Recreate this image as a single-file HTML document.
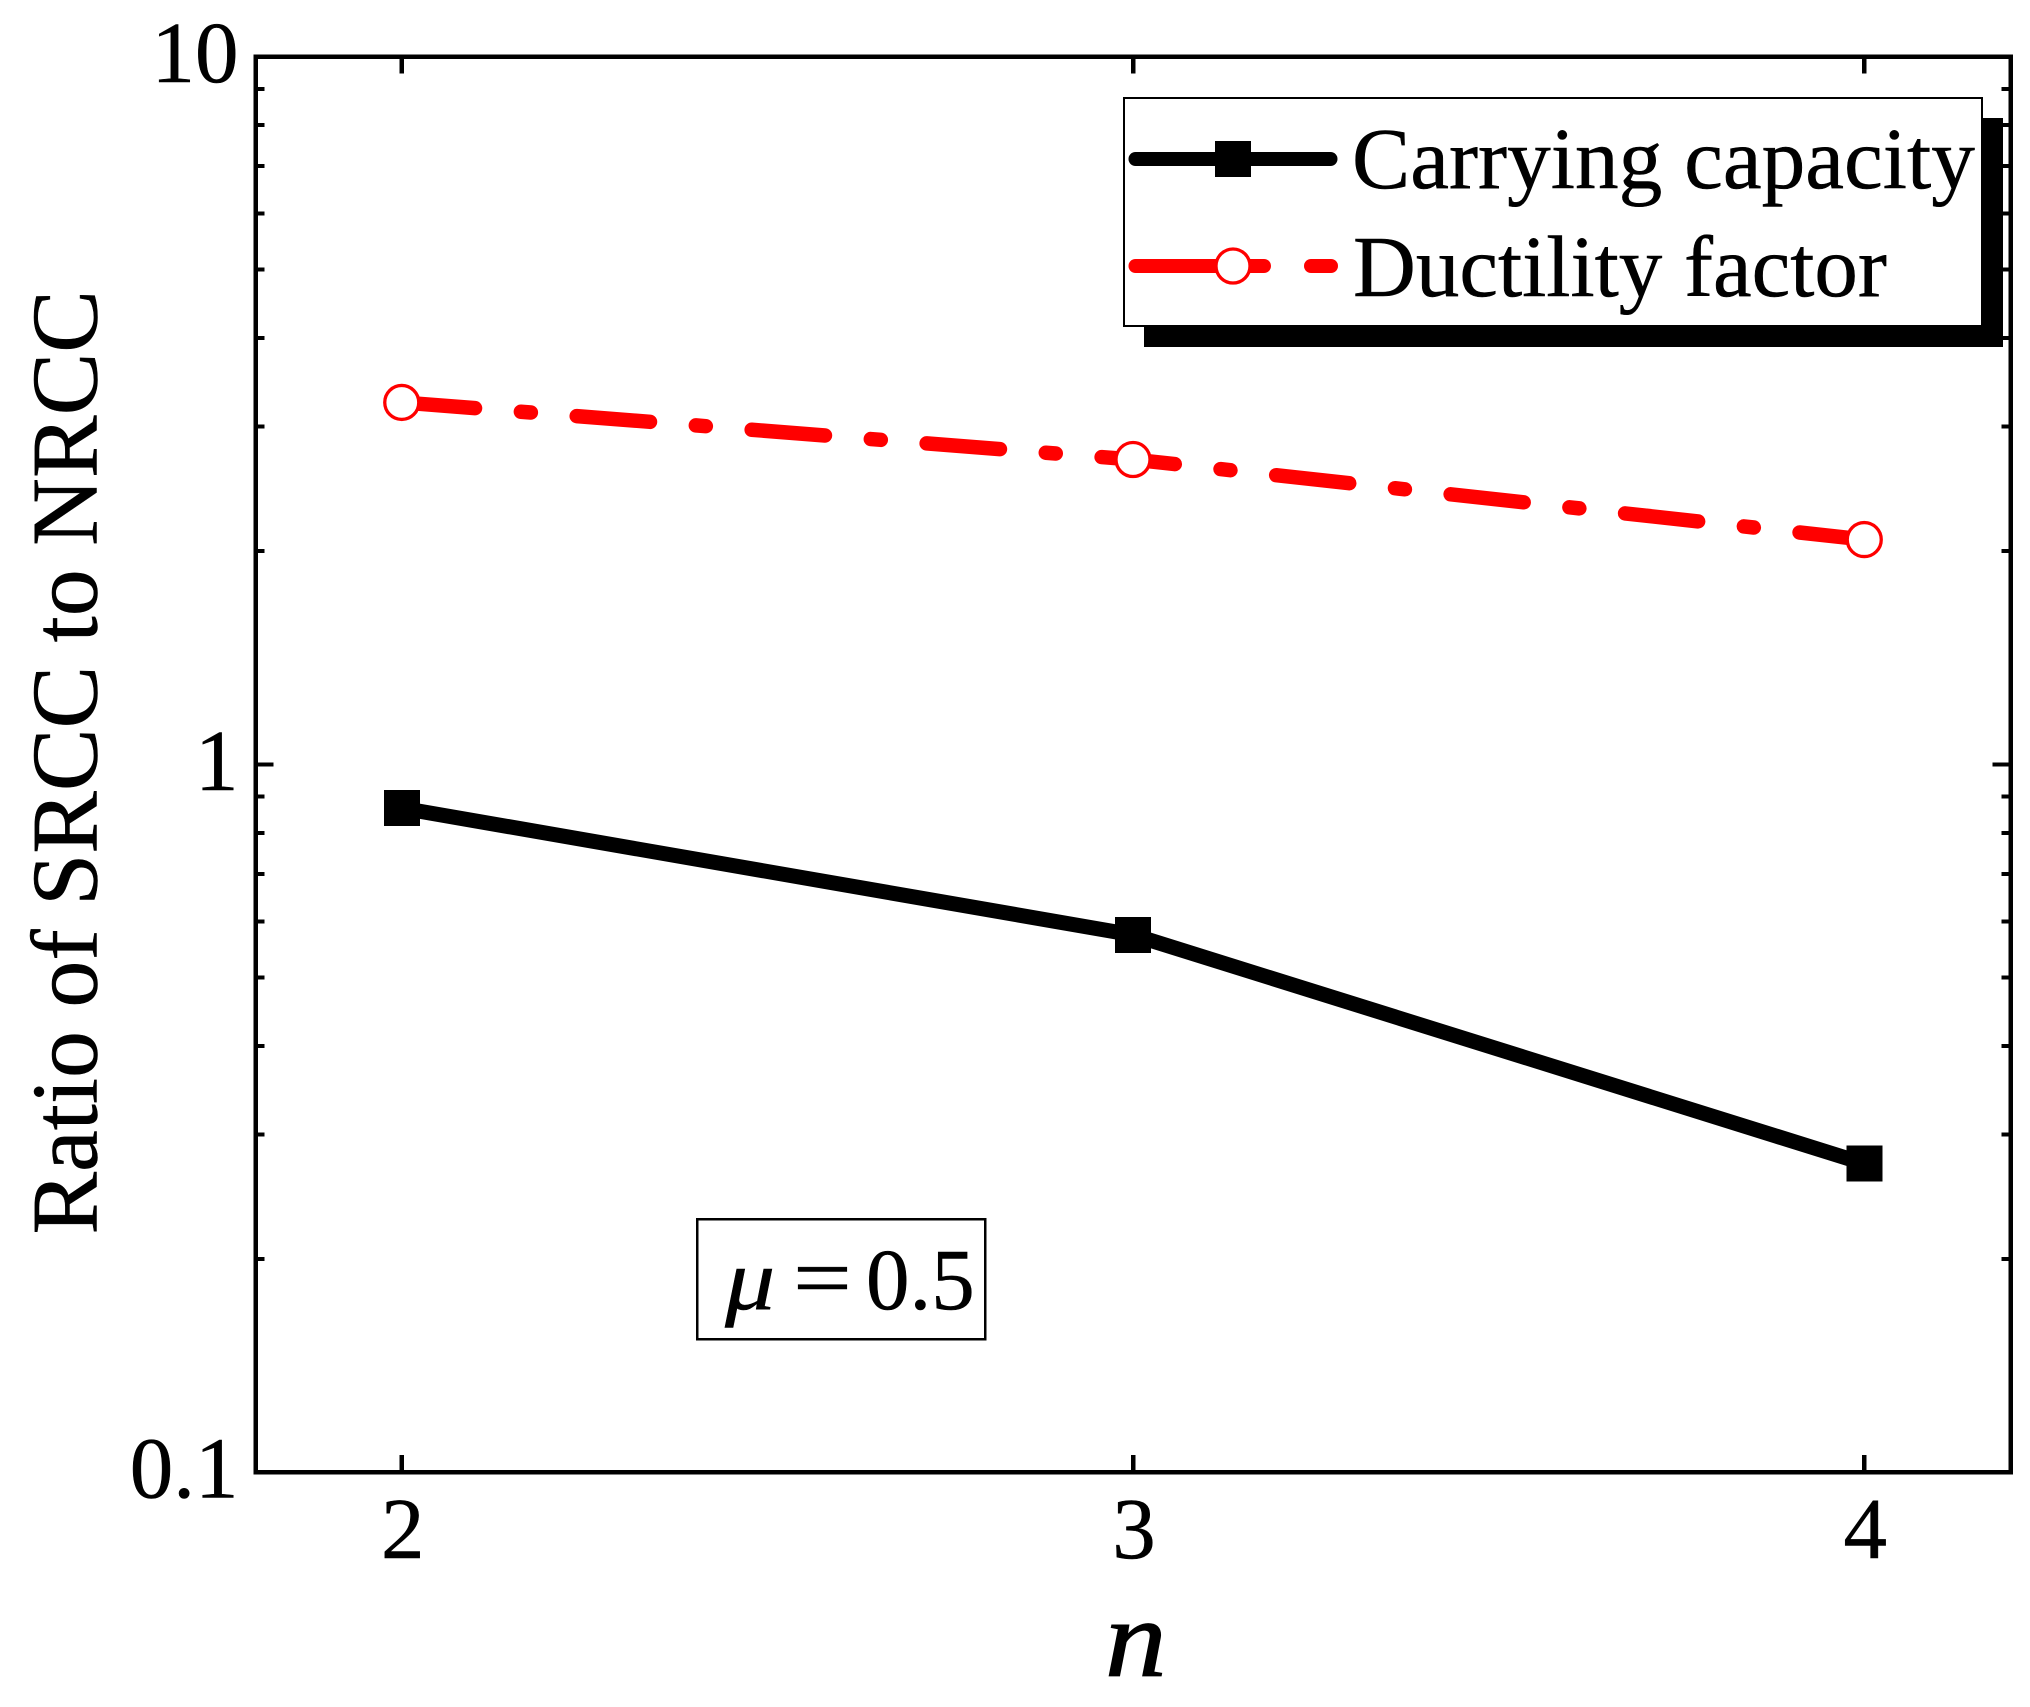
<!DOCTYPE html>
<html lang="en">
<head>
<meta charset="utf-8">
<title>Ratio of SRCC to NRCC versus n</title>
<style>
html,body{margin:0;padding:0;background:#fff;width:2030px;height:1707px;overflow:hidden}
svg{display:block}
text{font-family:"Liberation Serif","Times New Roman",serif;fill:#000;stroke:#000;stroke-width:.5px}
</style>
</head>
<body>
<svg id="chart" xmlns="http://www.w3.org/2000/svg" width="2030" height="1707" viewBox="0 0 2030 1707">
  <rect x="0" y="0" width="2030" height="1707" fill="#fff"/>
  <g id="ticks" shape-rendering="crispEdges"></g>
  <rect x="255.5" y="56.5" width="1755" height="1415.5" fill="none" stroke="#000" stroke-width="4.5" shape-rendering="crispEdges"/>
  <g id="tick-labels"></g>
  <text transform="translate(96.5,1234.5) rotate(-90)" font-size="93.9">Ratio of SRCC to NRCC</text>
  <text transform="translate(1105,1676) scale(1.12,1)" font-size="110" font-style="italic" style="stroke-width:1.2px">n</text>
  <g id="series"></g>

  <g>
    <rect x="697" y="1219" width="288" height="120" fill="#fff" stroke="#000" stroke-width="2.5" shape-rendering="crispEdges"/>
    <text transform="translate(725,1309) scale(1.15,1)" font-size="87" font-style="italic">μ</text>
    <text transform="translate(793,1307) scale(1.2,1)" font-size="87">=</text>
    <text x="866" y="1309" font-size="87">0.5</text>
  </g>

  <g>
    <rect x="1144" y="118" width="859" height="229" fill="#000" shape-rendering="crispEdges"/>
    <rect x="1124" y="98" width="858" height="228" fill="#fff" stroke="#000" stroke-width="2" shape-rendering="crispEdges"/>
    <line x1="1135.5" y1="159" x2="1330.5" y2="159" stroke="#000" stroke-width="14" stroke-linecap="round"/>
    <rect x="1215" y="141" width="36" height="36" fill="#000" shape-rendering="crispEdges"/>
    <text x="1352" y="188" font-size="87.3">Carrying capacity</text>
    <line x1="1135.5" y1="266" x2="1264" y2="266" stroke="#f00" stroke-width="14" stroke-linecap="round"/>
    <line x1="1311" y1="266" x2="1331" y2="266" stroke="#f00" stroke-width="14" stroke-linecap="round"/>
    <circle cx="1233" cy="266" r="17" fill="#fff" stroke="#f00" stroke-width="3.3"/>
    <text x="1353" y="296" font-size="87">Ductility factor</text>
  </g>
</svg>
<script>
const categories = [2, 3, 4];
const carryingCapacity = [0.867, 0.574, 0.2727];
const ductilityFactor = [3.245, 2.695, 2.077];
const xTickLabels = ['2', '3', '4'];
const yMajorTicks = [0.1, 1, 10];
const yMajorLabels = ['0.1', '1', '10'];
const yMinorTicks = [0.2, 0.3, 0.4, 0.5, 0.6, 0.7, 0.8, 0.9, 2, 3, 4, 5, 6, 7, 8, 9];

const xDomain = [1.8, 4.2];
const yDomain = [0.1, 10];
const plot = { left: 255.5, right: 2010.5, top: 56.5, bottom: 1472 };

function xScale(v) {
  return plot.left + (v - xDomain[0]) / (xDomain[1] - xDomain[0]) * (plot.right - plot.left);
}
function yScale(v) {
  const lo = Math.log10(yDomain[0]);
  const hi = Math.log10(yDomain[1]);
  return plot.bottom - (Math.log10(v) - lo) / (hi - lo) * (plot.bottom - plot.top);
}
function make(tag, attrs, parent) {
  const el = document.createElementNS('http://www.w3.org/2000/svg', tag);
  Object.keys(attrs).forEach(function (k) { el.setAttribute(k, attrs[k]); });
  parent.appendChild(el);
  return el;
}

const tickLayer = document.getElementById('ticks');
const labelLayer = document.getElementById('tick-labels');
const seriesLayer = document.getElementById('series');

categories.forEach(function (c, i) {
  const x = xScale(c);
  const bottomTick = make('line', { x1: x, x2: x, y1: plot.bottom, y2: plot.bottom - 17, stroke: '#000', 'stroke-width': 4.5 }, tickLayer);
  
  
  const topTick = make('line', { x1: x, x2: x, y1: plot.top, y2: plot.top + 17, stroke: '#000', 'stroke-width': 4.5 }, tickLayer);
  
  
  const label = make('text', { x: x + 1, y: 1558, 'font-size': 87, 'text-anchor': 'middle' }, labelLayer);
  label.textContent = xTickLabels[i];
  
  
});

yMajorTicks.forEach(function (v, i) {
  const y = yScale(v);
  const leftTick = make('line', { x1: plot.left, x2: plot.left + 18, y1: y, y2: y, stroke: '#000', 'stroke-width': 4 }, tickLayer);
  
  
  const rightTick = make('line', { x1: plot.right, x2: plot.right - 18, y1: y, y2: y, stroke: '#000', 'stroke-width': 4 }, tickLayer);
  
  
  const label = make('text', { x: 238.5, y: y + 25.5, 'font-size': 87, 'text-anchor': 'end' }, labelLayer);
  label.textContent = yMajorLabels[i];
  
  
});

yMinorTicks.forEach(function (v) {
  const y = yScale(v);
  const leftTick = make('line', { x1: plot.left, x2: plot.left + 9, y1: y, y2: y, stroke: '#000', 'stroke-width': 4 }, tickLayer);
  
  
  const rightTick = make('line', { x1: plot.right, x2: plot.right - 9, y1: y, y2: y, stroke: '#000', 'stroke-width': 4 }, tickLayer);
  
  
});

function points(values) {
  return values.map(function (v, i) { return xScale(categories[i]) + ',' + yScale(v); }).join(' ');
}

const carryingLine = make('polyline', { points: points(carryingCapacity), fill: 'none', stroke: '#000', 'stroke-width': 15, 'stroke-linejoin': 'round' }, seriesLayer);



const ductilityLine = make('polyline', { points: points(ductilityFactor), fill: 'none', stroke: '#f00', 'stroke-width': 14.5, 'stroke-linecap': 'round', 'stroke-linejoin': 'round', 'stroke-dasharray': '73.5 46 10 46' }, seriesLayer);



carryingCapacity.forEach(function (v, i) {
  const square = make('rect', { x: xScale(categories[i]) - 18, y: yScale(v) - 18, width: 36, height: 36, fill: '#000', 'shape-rendering': 'crispEdges' }, seriesLayer);
  
  
});

ductilityFactor.forEach(function (v, i) {
  const circle = make('circle', { cx: xScale(categories[i]), cy: yScale(v), r: 17, fill: '#fff', stroke: '#f00', 'stroke-width': 3.3 }, seriesLayer);
  
  
});
</script>
</body>
</html>
